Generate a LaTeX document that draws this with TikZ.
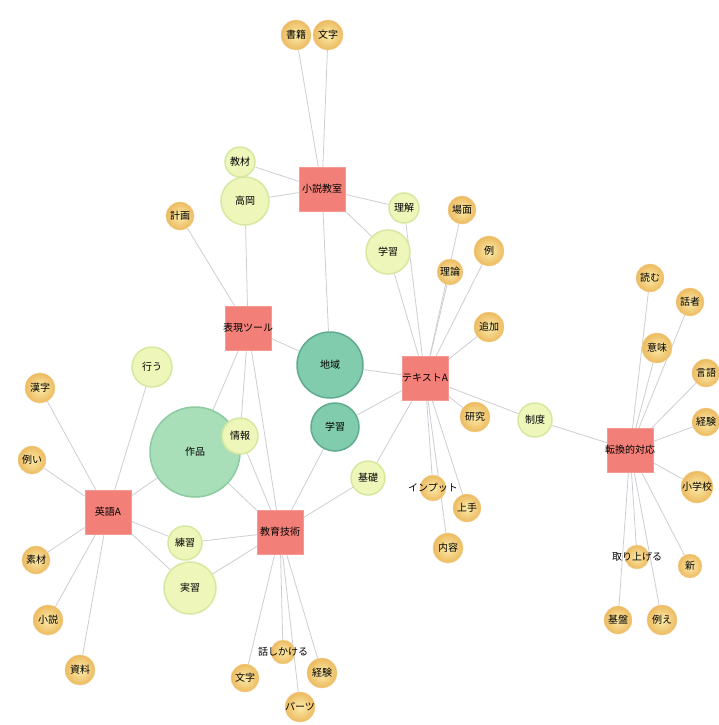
\documentclass[tikz,border=0pt]{standalone}
\usepackage{fontspec}
\newfontfamily\jp{Noto Sans CJK JP}
\pgfdeclarelayer{background}
\pgfsetlayers{background,main}
\definecolor{boxred}{RGB}{243,128,120}
\definecolor{leafin}{RGB}{252,236,170}
\definecolor{leafout}{RGB}{236,186,96}
\definecolor{lgfill}{RGB}{238,246,186}
\definecolor{lgdraw}{RGB}{214,232,160}
\definecolor{tealfill}{RGB}{128,204,172}
\definecolor{tealdraw}{RGB}{96,170,144}
\definecolor{bigfill}{RGB}{168,222,184}
\definecolor{bigdraw}{RGB}{140,203,160}
\definecolor{edgec}{RGB}{205,205,212}
\tikzset{
  lab/.style={font=\jp\fontsize{10}{11}\selectfont},
  redbox/.style={rectangle, fill=boxred, draw=boxred!80!white, minimum width=46pt, minimum height=44pt, inner sep=0pt,
     label={[lab]center:#1}},
  leaf/.style={circle, shade, inner color=leafin, outer color=leafout, draw=leafout!60, line width=0.4pt,
     inner sep=0pt, label={[lab]center:#1}},
  lg/.style={circle, fill=lgfill, draw=lgdraw, line width=1.5pt, inner sep=0pt, label={[lab]center:#1}},
  teal/.style={circle, fill=tealfill, draw=tealdraw, line width=1.5pt, inner sep=0pt, label={[lab]center:#1}},
  big/.style={circle, fill=bigfill, draw=bigdraw, line width=1.5pt, inner sep=0pt, label={[lab]center:#1}},
  edge/.style={draw=edgec, line width=0.8pt},
}
\begin{document}
\begin{tikzpicture}[x=1pt,y=-1pt]
\useasboundingbox (0,0) rectangle (718,725);
% hubs
\node[redbox=小説教室] (B1) at (322,189) {};
\node[redbox=表現ツール] (B2) at (248,328) {};
\node[redbox=テキストA] (B3) at (425,378) {};
\node[redbox=英語A] (B4) at (108,512) {};
\node[redbox=教育技術] (B5) at (280,532) {};
\node[redbox=転換的対応] (B6) at (630,450) {};
% leaves
\node[leaf=書籍, minimum size=30pt] (n1) at (296,35) {};
\node[leaf=文字, minimum size=30pt] (n2) at (328,35) {};
\node[lg=教材, minimum size=30pt] (n3) at (240,162) {};
\node[lg=高岡, minimum size=48pt] (n4) at (245,201) {};
\node[leaf=計画, minimum size=28pt] (n5) at (180,216) {};
\node[lg=理解, minimum size=30pt] (n6) at (404,208) {};
\node[leaf=場面, minimum size=28pt] (n7) at (462,210) {};
\node[lg=学習, minimum size=44pt] (n8) at (388,252) {};
\node[leaf=例, minimum size=30pt] (n9) at (489,251) {};
\node[leaf=理論, minimum size=26pt] (n10) at (450,272) {};
\node[leaf=追加, minimum size=30pt] (n11) at (489,327) {};
\node[teal=地域, minimum size=66pt] (n12) at (330,365) {};
\node[lg=行う, minimum size=40pt] (n13) at (152,367) {};
\node[leaf=漢字, minimum size=30pt] (n14) at (40,388) {};
\node[leaf=例い, minimum size=28pt] (n15) at (32,460) {};
\node[leaf=研究, minimum size=30pt] (n16) at (475,417) {};
\node[lg=制度, minimum size=34pt] (n17) at (535,420) {};
\node[teal=学習, minimum size=48pt] (n18) at (335,427) {};
\node[big=作品, minimum size=90pt] (n19) at (195,452) {};
\node[lg=情報, minimum size=36pt] (n20) at (240,436) {};
\node[lg=基礎, minimum size=34pt] (n21) at (368,478) {};
\node[leaf=インプット, minimum size=26pt] (n22) at (433,488) {};
\node[leaf=上手, minimum size=28pt] (n23) at (467,508) {};
\node[leaf=内容, minimum size=30pt] (n24) at (448,548) {};
\node[lg=練習, minimum size=34pt] (n25) at (185,543) {};
\node[lg=実習, minimum size=52pt] (n26) at (190,588) {};
\node[leaf=素材, minimum size=28pt] (n27) at (36,560) {};
\node[leaf=小説, minimum size=30pt] (n28) at (48,620) {};
\node[leaf=資料, minimum size=30pt] (n29) at (80,670) {};
\node[leaf=話しかける, minimum size=24pt] (n30) at (283,652) {};
\node[leaf=文字, minimum size=28pt] (n31) at (245,678) {};
\node[leaf=経験, minimum size=30pt] (n32) at (322,673) {};
\node[leaf=パーツ, minimum size=30pt] (n33) at (300,707) {};
\node[leaf=読む, minimum size=28pt] (n34) at (650,278) {};
\node[leaf=話者, minimum size=28pt] (n35) at (690,302) {};
\node[leaf=意味, minimum size=30pt] (n36) at (657,348) {};
\node[leaf=言語, minimum size=28pt] (n37) at (706,373) {};
\node[leaf=経験, minimum size=28pt] (n38) at (706,422) {};
\node[leaf=小学校, minimum size=32pt] (n39) at (697,487) {};
\node[leaf=取り上げる, minimum size=24pt] (n40) at (637,557) {};
\node[leaf=新, minimum size=24pt] (n41) at (690,566) {};
\node[leaf=基盤, minimum size=28pt] (n42) at (618,620) {};
\node[leaf=例え, minimum size=30pt] (n43) at (662,620) {};
\begin{pgfonlayer}{background}
\foreach \t in {n1,n2,n3,n4,n6,n8,n12} \draw[edge] (B1) -- (\t);
\foreach \t in {n4,n5,n12,n19,n20,B5} \draw[edge] (B2) -- (\t);
\foreach \t in {n8,n7,n9,n10,n11,n12,n18,n16,n17,n22,n23,n24,n21,n6} \draw[edge] (B3) -- (\t);
\foreach \t in {n14,n15,n27,n28,n29,n13,n25,n26,n19} \draw[edge] (B4) -- (\t);
\foreach \t in {n19,n20,n18,n21,n25,n26,n30,n31,n32,n33} \draw[edge] (B5) -- (\t);
\foreach \t in {n17,n34,n35,n36,n37,n38,n39,n40,n41,n42,n43} \draw[edge] (B6) -- (\t);
\end{pgfonlayer}
\end{tikzpicture}
\end{document}
